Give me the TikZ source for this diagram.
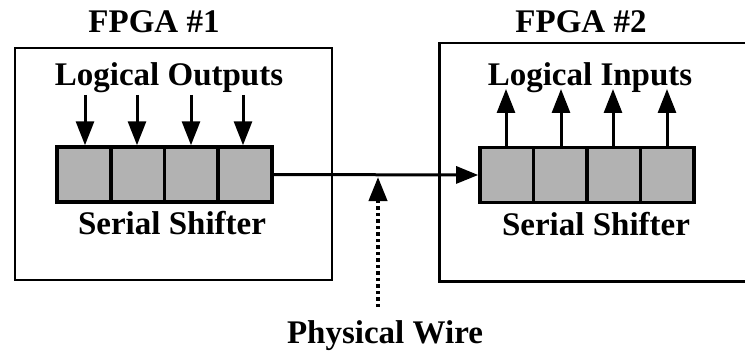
\documentclass[tikz,border=0pt]{standalone}
\usepackage{fontspec}
\setmainfont{Liberation Serif}
\usetikzlibrary{arrows.meta}
\begin{document}
\begin{tikzpicture}[x=1pt,y=-1pt,
  lbl/.style={font=\fontsize{33}{36}\selectfont\bfseries, inner sep=0pt, anchor=base},
  fpga/.style={draw, line width=2.5pt, inner sep=0pt},
  cell/.style={draw, line width=3.5pt, fill=black!30, minimum width=53.5pt, minimum height=55pt, inner sep=0pt},
  sig/.style={line width=3pt, -{Triangle[length=24pt,width=18pt]}},
  wire/.style={line width=3pt, -{Triangle[length=22pt,width=17pt]}},
  dotw/.style={line width=4pt, dash pattern=on 3.5pt off 3pt, -{Triangle[length=24pt,width=18pt]}}
]
\useasboundingbox (0,0) rectangle (745,353);
\fill[white] (0,0) rectangle (745,353);
% FPGA boxes
\node[fpga, minimum width=317pt, minimum height=232pt] (f1) at (173.5,164) {};
\node[fpga, minimum width=420pt, minimum height=238pt, anchor=north west] (f2) at (438,42) {};
% titles
\node[lbl] (t1) at (154,33) {FPGA \#1};
\node[lbl] (t2) at (581,33) {FPGA \#2};
\node[lbl] (lo) at (169,85) {Logical Outputs};
\node[lbl] (li) at (590,85) {Logical Inputs};
\node[lbl] (ss1) at (172,234) {Serial Shifter};
\node[lbl] (ss2) at (596,235) {Serial Shifter};
\node[lbl] (pwl) at (385,343) {Physical Wire};
% shifter 1
\foreach \i/\x in {1/83.9,2/137.6,3/191.3,4/245.1}{
  \node[cell] (a\i) at (\x,174.5) {};
}
% shifter 2
\foreach \i/\x in {1/506.7,2/560.2,3/613.7,4/667.2}{
  \node[cell] (b\i) at (\x,175) {};
}
% outputs
\foreach \i/\x in {1/85,2/137,3/191,4/243}{
  \coordinate (oa\i) at (\x,95);
  \draw[sig] (oa\i) -- (oa\i |- a\i.north);
}
% inputs
\foreach \i/\x in {1/506,2/561,3/613,4/667}{
  \coordinate (ib\i) at (\x,89);
  \draw[sig] (ib\i |- b\i.north) -- (ib\i);
}
% physical wire
\draw[wire] (a4.east) -- (b1.west);
\coordinate (pwb) at (378,307);
\coordinate (pwt) at (378,177);
\draw[dotw] (pwb) -- (pwt);
\end{tikzpicture}
\end{document}
